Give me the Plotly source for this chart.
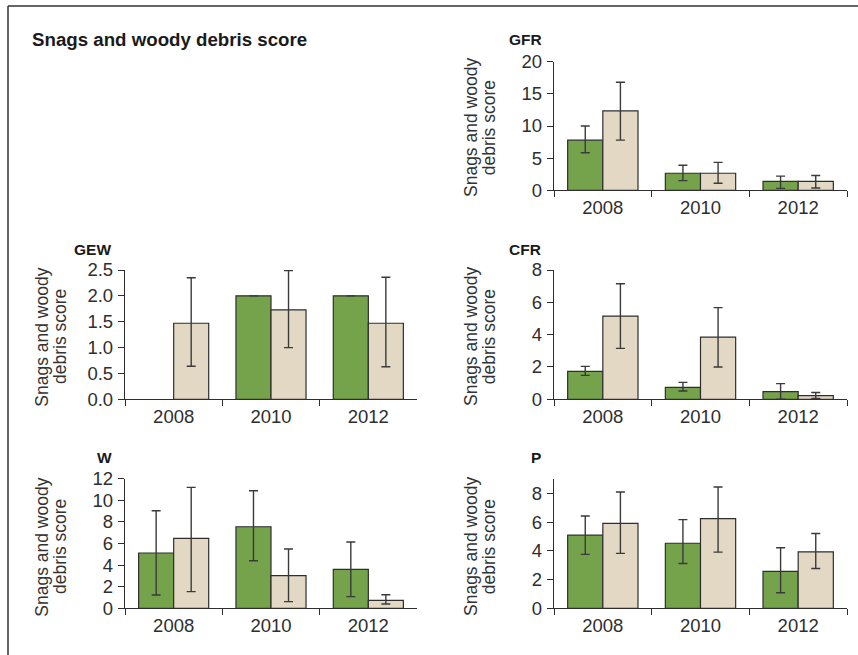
import plotly.graph_objects as go

W_PX, H_PX = 858, 655

years = ["2008", "2010", "2012"]

# GFR
gfr_green = [7.8, 2.65, 1.4]
gfr_green_hi = [10.0, 3.9, 2.2]
gfr_green_lo = [5.85, 1.5, 0.3]
gfr_beige = [12.35, 2.65, 1.4]
gfr_beige_hi = [16.8, 4.35, 2.3]
gfr_beige_lo = [7.8, 1.1, 0.35]

# GEW (no green bar in 2008, no spread on green bars)
gew_green = [None, 2.0, 2.0]
gew_green_hi = [None, None, None]
gew_green_lo = [None, None, None]
gew_beige = [1.47, 1.73, 1.47]
gew_beige_hi = [2.35, 2.49, 2.36]
gew_beige_lo = [0.64, 1.0, 0.63]

# CFR
cfr_green = [1.73, 0.74, 0.48]
cfr_green_hi = [2.04, 1.05, 0.97]
cfr_green_lo = [1.48, 0.51, 0.0]
cfr_beige = [5.15, 3.85, 0.23]
cfr_beige_hi = [7.15, 5.67, 0.42]
cfr_beige_lo = [3.15, 2.0, 0.05]

# W
w_green = [5.12, 7.55, 3.6]
w_green_hi = [9.03, 10.88, 6.14]
w_green_lo = [1.23, 4.4, 1.08]
w_beige = [6.48, 3.02, 0.74]
w_beige_hi = [11.2, 5.49, 1.26]
w_beige_lo = [1.54, 0.62, 0.4]

# P
p_green = [5.1, 4.54, 2.57]
p_green_hi = [6.44, 6.19, 4.22]
p_green_lo = [3.76, 3.13, 1.09]
p_beige = [5.93, 6.26, 3.94]
p_beige_hi = [8.11, 8.46, 5.22]
p_beige_lo = [3.83, 3.92, 2.78]

GREEN = "#75a34c"
BEIGE = "#e3d8c3"
INK = "#2e2e2e"
FONT = "Liberation Sans, Arial, sans-serif"


def px_x(x):
    return x / W_PX


def px_y(y):
    return 1 - y / H_PX


def deltas(vals, hi, lo):
    up, down = [], []
    for v, h, l in zip(vals, hi, lo):
        if v is None or h is None:
            up.append(float("nan"))
            down.append(float("nan"))
        else:
            up.append(h - v)
            down.append(v - l)
    return up, down


panels = [
    dict(name="GFR", ax="", x0=554, x1=847, ytop=61.7, ybot=190.3, rng=[0, 20], dtick=5, fmt="",
         data=[(gfr_green, gfr_green_hi, gfr_green_lo), (gfr_beige, gfr_beige_hi, gfr_beige_lo)],
         tx=507, ty=40, lx=471, ly=128),
    dict(name="GEW", ax="2", x0=125, x1=417, ytop=270, ybot=399.3, rng=[0, 2.5], dtick=0.5, fmt=".1f",
         data=[(gew_green, gew_green_hi, gew_green_lo), (gew_beige, gew_beige_hi, gew_beige_lo)],
         tx=72, ty=249, lx=41.7, ly=337),
    dict(name="CFR", ax="3", x0=554, x1=847, ytop=270, ybot=399.3, rng=[0, 8], dtick=2, fmt="",
         data=[(cfr_green, cfr_green_hi, cfr_green_lo), (cfr_beige, cfr_beige_hi, cfr_beige_lo)],
         tx=507, ty=249, lx=471, ly=337),
    dict(name="W", ax="4", x0=125, x1=417, ytop=478.7, ybot=608.3, rng=[0, 12], dtick=2, fmt="",
         data=[(w_green, w_green_hi, w_green_lo), (w_beige, w_beige_hi, w_beige_lo)],
         tx=95, ty=457, lx=41.7, ly=547),
    dict(name="P", ax="5", x0=554, x1=847, ytop=479.3, ybot=608.3, rng=[0, 9], dtick=2, fmt="",
         data=[(p_green, p_green_hi, p_green_lo), (p_beige, p_beige_hi, p_beige_lo)],
         tx=529, ty=457, lx=471, ly=547),
]

fig = go.Figure()
annotations = []
layout_axes = {}

for p in panels:
    for (vals, hi, lo), color in zip(p["data"], [GREEN, BEIGE]):
        up, down = deltas(vals, hi, lo)
        fig.add_trace(go.Bar(
            x=years, y=vals,
            xaxis="x" + p["ax"], yaxis="y" + p["ax"],
            marker=dict(color=color, line=dict(color=INK, width=1.2)),
            error_y=dict(type="data", symmetric=False, array=up, arrayminus=down,
                         color="#3a3a3a", thickness=1.4, width=4.5),
            showlegend=False,
        ))
    xa = dict(
        domain=[px_x(p["x0"]), px_x(p["x1"])],
        anchor="y" + p["ax"],
        type="category",
        tickson="boundaries",
        ticks="outside", ticklen=6, tickwidth=1.2, tickcolor=INK,
        showline=True, linecolor=INK, linewidth=1.3,
        showgrid=False, zeroline=False, automargin=False,
        tickfont=dict(family=FONT, size=18.5, color=INK),
        fixedrange=True,
    )
    ya = dict(
        domain=[px_y(p["ybot"]), px_y(p["ytop"])],
        anchor="x" + p["ax"],
        range=p["rng"], dtick=p["dtick"], tick0=0,
        tickformat=p["fmt"],
        ticks="outside", ticklen=6, tickwidth=1.2, tickcolor=INK,
        showline=True, linecolor=INK, linewidth=1.3,
        showgrid=False, zeroline=False, automargin=False,
        tickfont=dict(family=FONT, size=18.5, color=INK),
        ticklabelstandoff=1,
        fixedrange=True,
    )
    layout_axes["xaxis" + p["ax"]] = xa
    layout_axes["yaxis" + p["ax"]] = ya

    annotations.append(dict(
        text="<b>" + p["name"] + "</b>", x=px_x(p["tx"]), y=px_y(p["ty"]),
        xref="paper", yref="paper", xanchor="left", yanchor="middle",
        showarrow=False, font=dict(family=FONT, size=15.5, color="#1a1a1a"),
    ))
    for i, line in enumerate(["Snags and woody", "debris score"]):
        annotations.append(dict(
            text=line, x=px_x(p["lx"] + 18.3 * i), y=px_y(p["ly"]),
            xref="paper", yref="paper", xanchor="center", yanchor="middle",
            textangle=-90, showarrow=False,
            font=dict(family=FONT, size=17.5, color="#333333"),
        ))

annotations.append(dict(
    text="<b>Snags and woody debris score</b>", x=px_x(30), y=px_y(40),
    xref="paper", yref="paper", xanchor="left", yanchor="middle",
    showarrow=False, font=dict(family=FONT, size=18.7, color="#1a1a1a"),
))

shapes = [
    dict(type="line", xref="paper", yref="paper", x0=px_x(8), x1=1.0, y0=px_y(6), y1=px_y(6),
         line=dict(color="#333333", width=1.5)),
    dict(type="line", xref="paper", yref="paper", x0=px_x(8), x1=px_x(8), y0=px_y(6), y1=0.0,
         line=dict(color="#333333", width=1.5)),
]

fig.update_layout(
    template="none",
    width=W_PX, height=H_PX,
    margin=dict(l=0, r=0, t=0, b=0, pad=0, autoexpand=False),
    paper_bgcolor="white", plot_bgcolor="white",
    barmode="group", bargap=0.28, bargroupgap=0,
    annotations=annotations, shapes=shapes,
)
fig.update_layout(**layout_axes)

fig.write_html(
    "out.html",
    config={"displayModeBar": False},
    post_script="document.body.style.margin='0';document.body.style.overflow='hidden';",
)
